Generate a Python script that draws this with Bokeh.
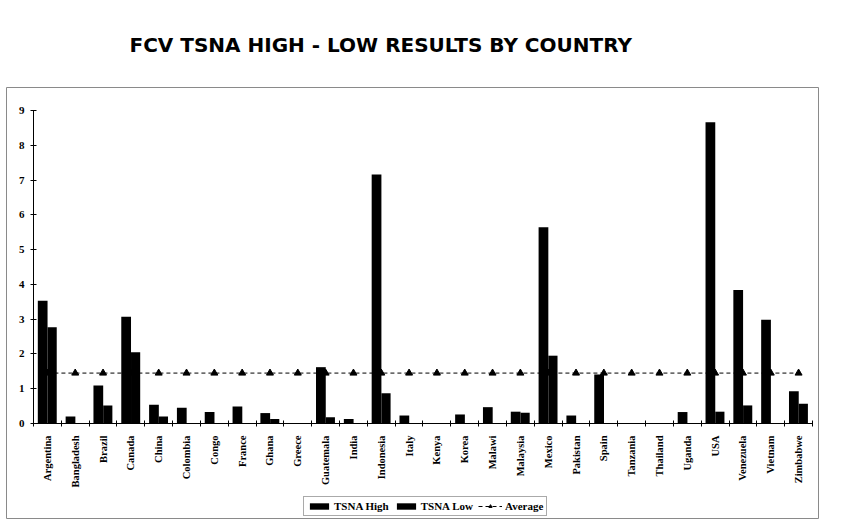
import math
from bokeh.plotting import figure
from bokeh.models import (ColumnDataSource, FixedTicker, Legend, LegendItem, Range1d)
from bokeh.transform import dodge
from bokeh.embed import file_html
from bokeh.resources import INLINE

countries = ["Argentina", "Bangladesh", "Brazil", "Canada", "China", "Colombia", "Congo",
             "France", "Ghana", "Greece", "Guatemala", "India", "Indonesia", "Italy", "Kenya",
             "Korea", "Malawi", "Malaysia", "Mexico", "Pakistan", "Spain", "Tanzania",
             "Thailand", "Uganda", "USA", "Venezuela", "Vietnam", "Zimbabwe"]
tsna_high = [3.53, 0.20, 1.09, 3.07, 0.54, 0.45, 0.33, 0.49, 0.30, 0.0, 1.62, 0.13, 7.16, 0.23,
             0.0, 0.26, 0.47, 0.34, 5.64, 0.23, 1.41, 0.0, 0.0, 0.33, 8.66, 3.84, 2.98, 0.93]
tsna_low = [2.77, 0.0, 0.52, 2.05, 0.20, 0.0, 0.0, 0.0, 0.13, 0.0, 0.18, 0.0, 0.87, 0.0,
            0.0, 0.0, 0.0, 0.31, 1.95, 0.0, 0.0, 0.0, 0.0, 0.0, 0.34, 0.52, 0.0, 0.57]
average = [1.45, 1.45, 1.45, 1.45, 1.45, 1.45, 1.45, 1.45, 1.45, 1.45, 1.45, 1.45, 1.45, 1.45,
           1.45, 1.45, 1.45, 1.45, 1.45, 1.45, 1.45, 1.45, 1.45, 1.45, 1.45, 1.45, 1.45, 1.45]
y_ticks = [0, 1, 2, 3, 4, 5, 6, 7, 8, 9]
title_text = "FCV TSNA HIGH - LOW RESULTS BY COUNTRY"

n = len(countries)
pos = list(range(1, n + 1))
src = ColumnDataSource(dict(x=pos, high=tsna_high, low=tsna_low, avg=average))

# the frame is the chart's outer box; the axes sit inside it at fixed locations
p = figure(width=865, height=523,
           x_range=Range1d(-0.4705, n + 0.7157), y_range=Range1d(-2.731, 9.661),
           output_backend="svg", toolbar_location=None,
           min_border_left=6, min_border_right=47, min_border_top=87, min_border_bottom=5)
p.outline_line_color = "#8a8a8a"
p.outline_line_width = 1
p.grid.visible = False
p.background_fill_color = "white"
p.border_fill_color = "white"

p.title.text = title_text
p.title.align = "left"
p.title.offset = 123
p.title.standoff = 61
p.title.text_line_height = 1.0
p.title.text_font = "DejaVu Sans"
p.title.text_font_style = "bold"
p.title.text_font_size = "20px"
p.title.text_color = "black"

# average line beneath bars
r_line = p.line("x", "avg", source=src, line_color="black", line_width=1, line_dash="4 3")
r_mark = p.scatter("x", "avg", source=src, marker="triangle", size=7, color="black")

r_high = p.vbar(x=dodge("x", -0.17), top="high", width=0.35, source=src,
                fill_color="black", line_color=None)
r_low = p.vbar(x=dodge("x", 0.17), top="low", width=0.33, source=src,
               fill_color="black", line_color=None)

# x axis
xa = p.xaxis[0]
xa.fixed_location = 0
xa.bounds = (0.5, n + 0.5)
xa.ticker = FixedTicker(ticks=pos, minor_ticks=[i + 0.5 for i in range(n + 1)])
xa.major_label_overrides = {i: c for i, c in zip(pos, countries)}
xa.major_label_orientation = math.pi / 2
xa.major_tick_line_color = None
xa.major_tick_in = 0
xa.major_tick_out = 0
xa.minor_tick_in = 3
xa.minor_tick_out = 3
xa.minor_tick_line_color = "black"
xa.axis_line_color = "black"
xa.major_label_standoff = 9
xa.major_label_text_font = "Liberation Serif"
xa.major_label_text_font_style = "bold"
xa.major_label_text_font_size = "10.5px"
xa.major_label_text_color = "black"

# y axis
ya = p.yaxis[0]
ya.fixed_location = 0.5
ya.bounds = (0, 9)
ya.ticker = FixedTicker(ticks=y_ticks)
ya.minor_tick_line_color = None
ya.major_tick_in = 3
ya.major_tick_out = 3
ya.major_tick_line_color = "black"
ya.axis_line_color = "black"
ya.major_label_standoff = 6
ya.major_label_text_font = "Liberation Serif"
ya.major_label_text_font_style = "bold"
ya.major_label_text_font_size = "11px"
ya.major_label_text_color = "black"

legend = Legend(items=[LegendItem(label="TSNA High", renderers=[r_high]),
                       LegendItem(label="TSNA Low", renderers=[r_low]),
                       LegendItem(label="Average", renderers=[r_line, r_mark])],
                orientation="horizontal", location=(297, 2),
                label_text_font="Liberation Serif", label_text_font_style="bold",
                label_text_font_size="11px", label_text_color="black",
                glyph_width=24, glyph_height=8, label_standoff=3, spacing=5,
                padding=3, margin=0, border_line_color="#555555",
                label_height=12)
p.add_layout(legend)

open("out.html", "w").write(file_html(p, INLINE))
